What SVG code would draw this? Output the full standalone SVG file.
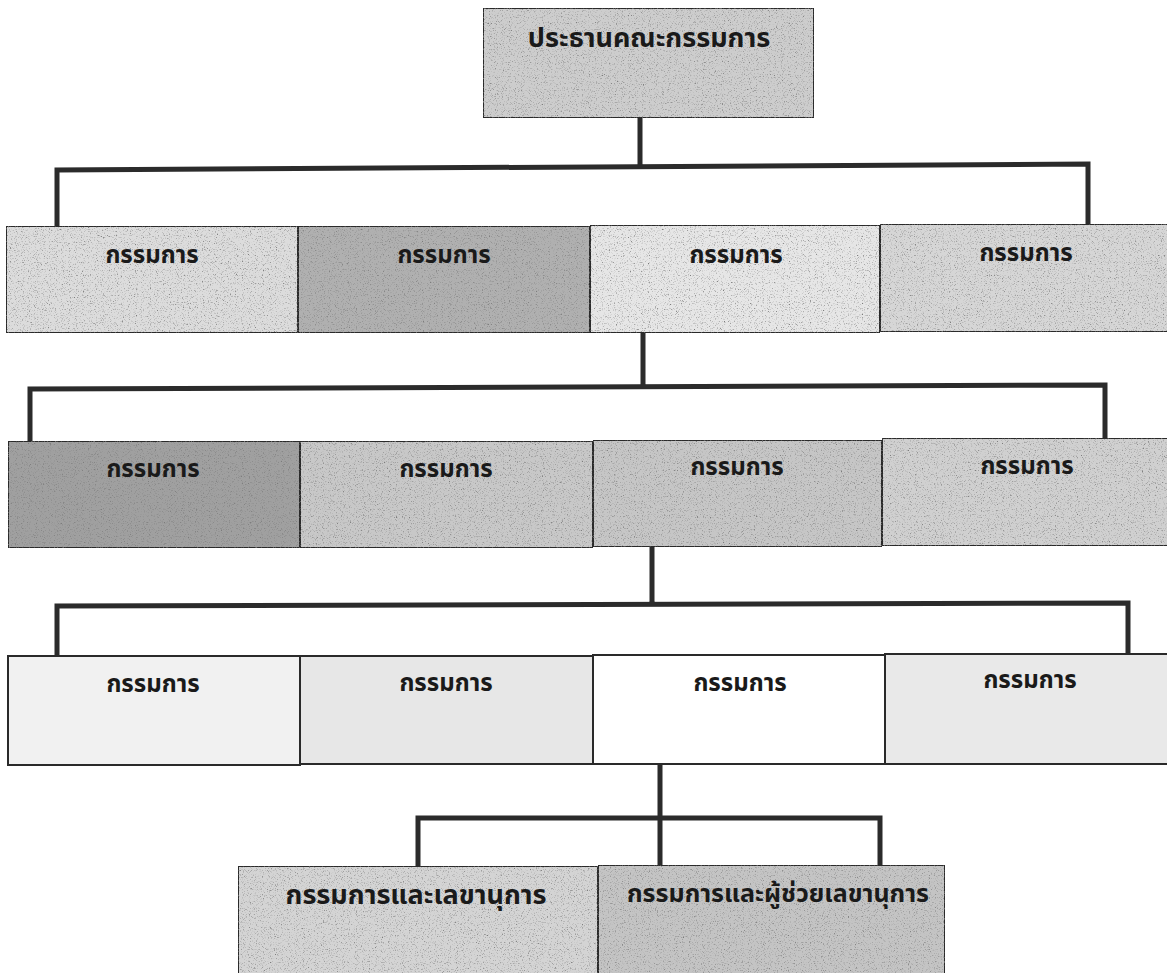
<svg xmlns="http://www.w3.org/2000/svg" width="1167" height="973" viewBox="0 0 1167 973">
<defs>
<filter id="grain" x="0" y="0" width="100%" height="100%">
<feTurbulence type="fractalNoise" baseFrequency="0.85" numOctaves="2" seed="7" result="n"/>
<feColorMatrix in="n" type="matrix" values="0 0 0 0 0.2  0 0 0 0 0.2  0 0 0 0 0.2  3.2 0 0 0 -1.75" result="dark"/>
<feComposite in="dark" in2="SourceGraphic" operator="in" result="sp"/>
<feMerge><feMergeNode in="SourceGraphic"/><feMergeNode in="sp"/></feMerge>
</filter>
</defs>
<style>
.box{stroke:#2a2a2a;stroke-width:2}
.g{filter:url(#grain)}
.lbl{font-family:"Noto Sans Thai","Noto Sans","DejaVu Sans",sans-serif;font-size:24px;font-weight:bold;fill:#1a1a1a;text-anchor:middle}
.big{font-size:27px}
.mid{font-size:25px}
.con{fill:none;stroke:#2b2b2b;stroke-width:5;stroke-linecap:square}
</style>
<rect width="1167" height="973" fill="#ffffff"/>
<g id="connectors">
<path class="con" d="M640,118 V165 M57,225 V170 L1088,164 V222"/>
<path class="con" d="M643,333 V386 M30,440 V389 L1105,385 V438"/>
<path class="con" d="M652,548 V604 M57,655 V606 L1128,603 V655"/>
<path class="con" d="M660,765 V866 M418,866 V818 H880 V866"/>
</g>
<g id="chairman"><rect class="box g" x="483" y="8" width="331" height="110" fill="#cdcdcd"/><text class="lbl big" x="649" y="47">ประธานคณะกรรมการ</text></g>
<g id="r1c1"><rect class="box g" x="6" y="226" width="292" height="107" fill="#dcdcdc"/><text class="lbl" x="152" y="263">กรรมการ</text></g>
<g id="r1c2"><rect class="box g" x="298" y="226" width="292" height="107" fill="#b0b0b0"/><text class="lbl" x="444" y="263">กรรมการ</text></g>
<g id="r1c3"><rect class="box g" x="590" y="225" width="290" height="108" fill="#e6e6e6"/><text class="lbl" x="736" y="263">กรรมการ</text></g>
<g id="r1c4"><rect class="box g" x="880" y="224" width="292" height="108" fill="#d6d6d6"/><text class="lbl" x="1026" y="261">กรรมการ</text></g>
<g id="r2c1"><rect class="box g" x="8" y="441" width="292" height="107" fill="#a0a0a0"/><text class="lbl" x="153" y="477">กรรมการ</text></g>
<g id="r2c2"><rect class="box g" x="300" y="441" width="293" height="107" fill="#c8c8c8"/><text class="lbl" x="446" y="477">กรรมการ</text></g>
<g id="r2c3"><rect class="box g" x="593" y="440" width="289" height="107" fill="#c6c6c6"/><text class="lbl" x="737" y="475">กรรมการ</text></g>
<g id="r2c4"><rect class="box g" x="882" y="438" width="290" height="108" fill="#d0d0d0"/><text class="lbl" x="1027" y="474">กรรมการ</text></g>
<g id="r3c1"><rect class="box" x="8" y="656" width="292" height="109" fill="#f1f1f1"/><text class="lbl" x="153" y="692">กรรมการ</text></g>
<g id="r3c2"><rect class="box" x="300" y="656" width="293" height="108" fill="#e7e7e7"/><text class="lbl" x="446" y="691">กรรมการ</text></g>
<g id="r3c3"><rect class="box" x="593" y="655" width="292" height="109" fill="#ffffff"/><text class="lbl" x="740" y="691">กรรมการ</text></g>
<g id="r3c4"><rect class="box" x="885" y="654" width="287" height="110" fill="#e9e9e9"/><text class="lbl" x="1030" y="688">กรรมการ</text></g>
<g id="b1"><rect class="box g" x="238" y="866" width="360" height="112" fill="#d4d4d4"/><text class="lbl big" x="416" y="904">กรรมการและเลขานุการ</text></g>
<g id="b2"><rect class="box g" x="598" y="865" width="347" height="113" fill="#c4c4c4"/><text class="lbl mid" x="778" y="902">กรรมการและผู้ช่วยเลขานุการ</text></g>
</svg>
